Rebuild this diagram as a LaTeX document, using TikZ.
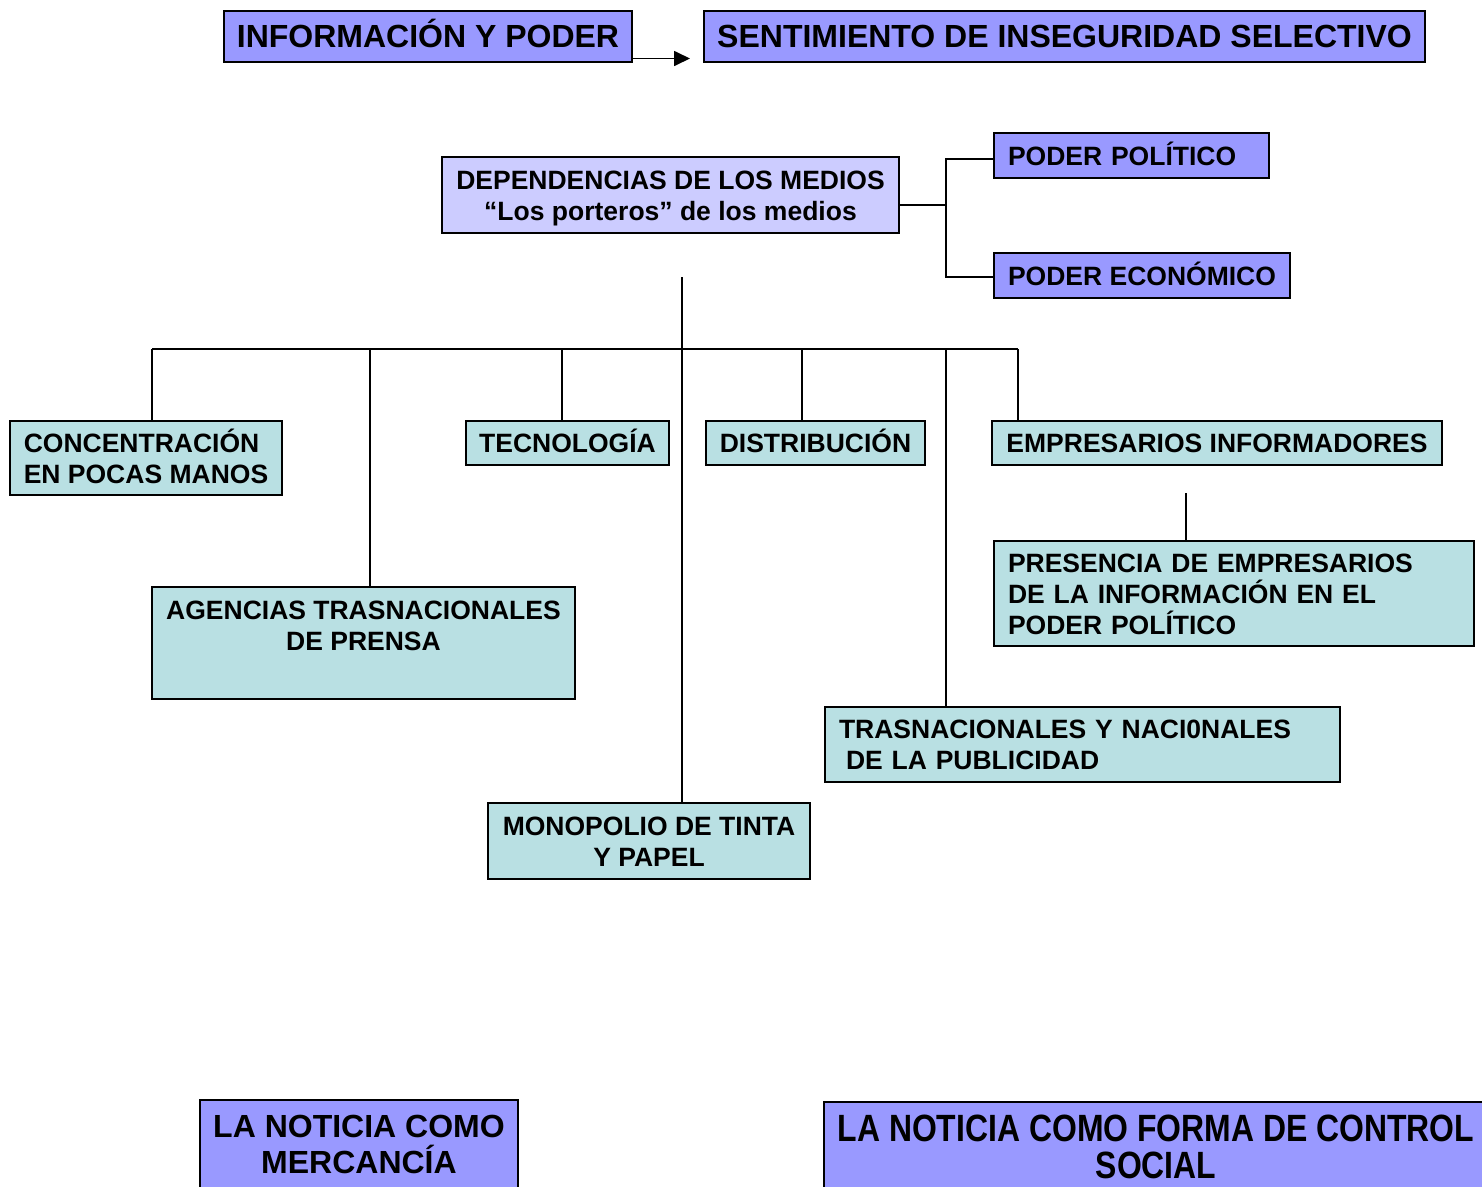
\documentclass[tikz,border=0pt]{standalone}
\usepackage{fontspec}
\setmainfont{Liberation Sans}
\newfontfamily\narrowbold[FakeStretch=0.84]{Liberation Sans Bold}
\usetikzlibrary{arrows.meta,calc}
\definecolor{blueA}{RGB}{153,153,255}
\definecolor{lavA}{RGB}{204,204,255}
\definecolor{tealA}{RGB}{185,224,227}
\begin{document}
\begin{tikzpicture}[x=1pt,y=-1pt,
  box/.style={draw=black, line width=1.8pt, inner sep=0pt, outer sep=0pt},
  med/.style={font=\fontsize{26.5}{31}\selectfont\bfseries},
  big/.style={font=\fontsize{32}{36}\selectfont\bfseries},
  medone/.style={med, text height=19pt, text depth=0pt},
  bigone/.style={big, text height=22.9pt, text depth=0pt},
  conn/.style={draw=black, line width=1.7pt}
]
\path[use as bounding box, fill=white] (0,0) rectangle (1482,1186);

% top row
\node[box, fill=blueA, bigone, minimum width=408, minimum height=51] (info) at (428,36.5) {INFORMACIÓN Y PODER};
\node[box, fill=blueA, bigone, minimum width=721, minimum height=51] (sent) at (1064.5,36.5) {SENTIMIENTO DE INSEGURIDAD SELECTIVO};
\draw[conn, -{Triangle[length=16pt,width=15pt]}, shorten >=14pt] ($(info.south east)+(0,-3.5)$) -- ($(sent.south west)+(0,-3.5)$);

% dependencias
\node[box, fill=lavA, med, align=center, text height=50pt, text depth=0pt, minimum width=457, minimum height=76] (deps) at (670.5,195) {DEPENDENCIAS DE LOS MEDIOS\\“Los porteros” de los medios};
\node[box, fill=blueA, medone, align=left, inner xsep=14pt, text width=247pt, minimum height=45, anchor=north west] (pp) at (994,133) {PODER POLÍTICO};
\node[box, fill=blueA, medone, minimum width=296, minimum height=45, anchor=north west] (pe) at (994,253) {PODER ECONÓMICO};
\coordinate (br) at ($(deps.east)+(47,10)$);
\draw[conn] ($(deps.east)+(0,10)$) -- (br);
\draw[conn] ($(pp.west)+(0,3.5)$) -| (br) |- ($(pe.west)+(0,1.5)$);

% second level
\node[box, fill=tealA, med, align=left, text height=50pt, text depth=0pt, minimum width=272, minimum height=74, anchor=north west] (conc) at (10,421) {CONCENTRACIÓN\\EN POCAS MANOS};
\node[box, fill=tealA, medone, minimum width=203, minimum height=44] (tecn) at (567.5,443) {TECNOLOGÍA};
\node[box, fill=tealA, medone, minimum width=219, minimum height=44] (dist) at (815.5,443) {DISTRIBUCIÓN};
\node[box, fill=tealA, medone, minimum width=450, minimum height=44] (emp) at (1217,443) {EMPRESARIOS INFORMADORES};
\node[box, fill=tealA, med, align=left, inner xsep=14pt, text width=452pt, text height=19pt, text depth=62pt, minimum height=105, anchor=north west] (pres) at (994,541) {PRESENCIA DE EMPRESARIOS\\DE LA INFORMACIÓN EN EL\\PODER POLÍTICO};
\node[box, fill=tealA, med, align=center, text height=50pt, text depth=35pt, minimum width=423, minimum height=112] (agen) at (363.5,643) {AGENCIAS TRASNACIONALES\\DE PRENSA};
\node[box, fill=tealA, med, align=left, inner xsep=14pt, text width=487pt, text height=19pt, text depth=31pt, minimum height=75, anchor=north west] (tras) at (825,707) {TRASNACIONALES Y NACI0NALES\\\hspace*{7pt}DE LA PUBLICIDAD};
\node[box, fill=tealA, med, align=center, text height=50pt, text depth=0pt, minimum width=322, minimum height=76] (mono) at (649,841) {MONOPOLIO DE TINTA\\Y PAPEL};

% tree connectors
\coordinate (trunk) at (682,277);
\coordinate (busL) at (152,349);
\coordinate (busR) at (1018,349);
\coordinate (bA) at (370,349);
\coordinate (bT) at (562,349);
\coordinate (bD) at (802,349);
\coordinate (bP) at (946,349);
\coordinate (pr) at (1186,493);
\draw[conn] (trunk) -- (trunk |- mono.north);
\draw[conn] (busL) -- (busR);
\draw[conn] (busL) -- (busL |- conc.north);
\draw[conn] (bA) -- (bA |- agen.north);
\draw[conn] (bT) -- (bT |- tecn.north);
\draw[conn] (bD) -- (bD |- dist.north);
\draw[conn] (bP) -- (bP |- tras.north);
\draw[conn] (busR) -- (busR |- emp.north);
\draw[conn] (pr) -- (pr |- pres.north);

% bottom
\node[box, fill=blueA, big, align=center, text height=58.9pt, text depth=0pt, minimum width=318, minimum height=88] (merc) at (359,1144) {LA NOTICIA COMO\\MERCANCÍA};
\node[box, fill=blueA, font=\fontsize{38}{37}\selectfont\narrowbold, align=center, text height=64.2pt, text depth=0pt, minimum width=664, minimum height=89] (ctrl) at (1156,1146.5) {LA NOTICIA COMO FORMA DE CONTROL\\SOCIAL};
\end{tikzpicture}
\end{document}
